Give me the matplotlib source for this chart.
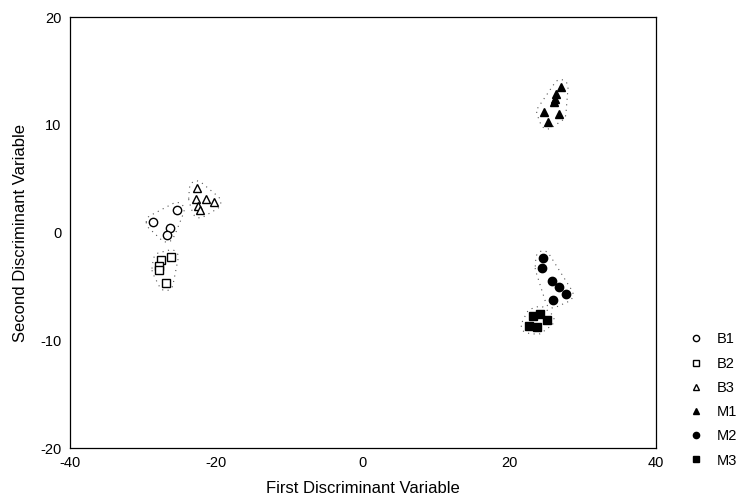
import numpy as np
import matplotlib
matplotlib.use('Agg')
import matplotlib.pyplot as plt

plt.rcParams['font.family'] = ['Liberation Sans', 'DejaVu Sans']
plt.rcParams['axes.unicode_minus'] = False

# discriminant scores
b1_x = [-25.4, -28.6, -26.4, -26.8]
b1_y = [2.1, 0.95, 0.4, -0.2]
b2_x = [-27.6, -26.2, -27.8, -27.8, -26.9]
b2_y = [-2.55, -2.3, -3.15, -3.5, -4.7]
b3_x = [-22.7, -22.8, -21.4, -20.4, -22.5, -22.3]
b3_y = [4.1, 3.1, 3.1, 2.8, 2.5, 2.05]
m1_x = [27.0, 26.4, 26.2, 26.1, 24.7, 26.7, 25.2]
m1_y = [13.5, 12.9, 12.4, 12.1, 11.2, 11.0, 10.3]
m2_x = [24.6, 24.5, 25.8, 26.8, 27.7, 25.9]
m2_y = [-2.4, -3.3, -4.5, -5.1, -5.75, -6.3]
m3_x = [23.25, 24.15, 25.1, 22.6, 23.8]
m3_y = [-7.75, -7.55, -8.1, -8.65, -8.75]

groups = ['B1', 'B2', 'B3', 'M1', 'M2', 'M3']
xs = [b1_x, b2_x, b3_x, m1_x, m2_x, m3_x]
ys = [b1_y, b2_y, b3_y, m1_y, m2_y, m3_y]
markers = ['o', 's', '^', '^', 'o', 's']
faces = ['white', 'white', 'white', 'black', 'black', 'black']


def hull(pts):
    pts = sorted(set(map(tuple, pts)))
    if len(pts) < 3:
        return pts

    def cross(o, a, b):
        return (a[0] - o[0]) * (b[1] - o[1]) - (a[1] - o[1]) * (b[0] - o[0])

    lower, upper = [], []
    for p in pts:
        while len(lower) >= 2 and cross(lower[-2], lower[-1], p) <= 0:
            lower.pop()
        lower.append(p)
    for p in reversed(pts):
        while len(upper) >= 2 and cross(upper[-2], upper[-1], p) <= 0:
            upper.pop()
        upper.append(p)
    return lower[:-1] + upper[:-1]


fig = plt.figure(figsize=(7.51, 4.99), dpi=100)
ax = fig.add_axes([0.0932, 0.1022, 0.7803, 0.8637])

# dotted outline around every group
ang = np.linspace(0, 2 * np.pi, 16, endpoint=False)
for gx, gy in zip(xs, ys):
    pts = []
    for px, py in zip(gx, gy):
        for a in ang:
            pts.append((px + 1.0 * np.cos(a), py + 0.7 * np.sin(a)))
    h = hull(np.round(pts, 4))
    h = h + [h[0]]
    hx, hy = zip(*h)
    ax.plot(hx, hy, linestyle=(0, (1, 4)), color='#555555', lw=0.8, zorder=1)

for name, gx, gy, m, fc in zip(groups, xs, ys, markers, faces):
    ax.plot(gx, gy, linestyle='none', marker=m, markersize=6,
            markerfacecolor=fc, markeredgecolor='black', markeredgewidth=1.0,
            label=name, zorder=3)

ax.set_xlim(-40, 40)
ax.set_ylim(-20, 20)
ax.set_xticks([-40, -20, 0, 20, 40])
ax.set_yticks([-20, -10, 0, 10, 20])
ax.tick_params(length=0, labelsize=10.5, pad=6)
for s in ax.spines.values():
    s.set_linewidth(0.9)
ax.set_xlabel('First Discriminant Variable', fontsize=12, labelpad=8)
ax.set_ylabel('Second Discriminant Variable', fontsize=12, labelpad=9)

fig.legend(loc='upper left', bbox_to_anchor=(0.9, 0.36), frameon=False,
           fontsize=10.5, handletextpad=0.9, labelspacing=0.7, markerscale=0.75,
           handlelength=1.0)

fig.savefig('out.png', dpi=100)
